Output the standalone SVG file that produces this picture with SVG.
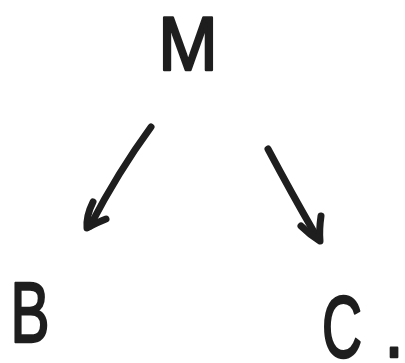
<svg xmlns="http://www.w3.org/2000/svg" width="405" height="363" viewBox="0 0 405 363">
<style>
.lbl{font-family:"Liberation Sans","DejaVu Sans",sans-serif;fill:#1e1e1e;stroke:#1e1e1e;stroke-width:2.5;stroke-linejoin:round;text-anchor:middle;}
.ar{fill:none;stroke:#1e1e1e;stroke-width:7;stroke-linecap:round;stroke-linejoin:round;}
</style>
<rect width="405" height="363" fill="#ffffff"/>
<g id="node-M"><text class="lbl" transform="translate(188,70) scale(0.94,1)" font-size="76">M</text></g>
<g id="node-B"><text class="lbl" transform="translate(30,342) scale(0.68,1)" font-size="86">B</text></g>
<g id="node-C"><text class="lbl" transform="translate(342,357) scale(0.63,1)" font-size="88">C</text><text class="lbl" transform="translate(394,357) scale(0.8,1)" font-size="88">.</text></g>
<g id="connectors">
<path class="ar" d="M151,127 Q118,172 90,226"/>
<path class="ar" d="M93,202 Q86,216 87,228 Q98,222 106,219"/>
<path class="ar" d="M268,149 Q292,194 314,232"/>
<path class="ar" d="M321,216 Q319,230 320,241 Q309,234 301,226"/>
</g>
</svg>
